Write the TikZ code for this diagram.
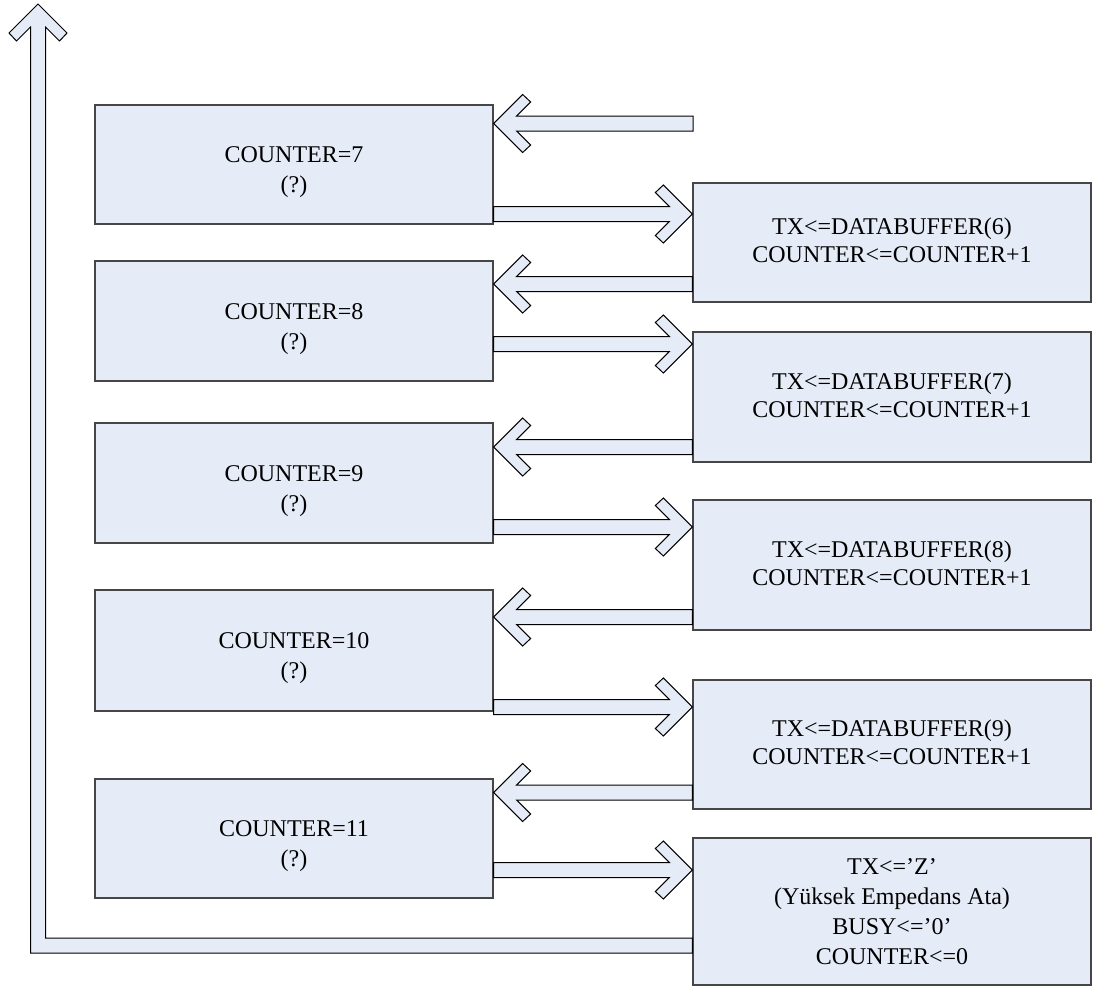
\documentclass[tikz,border=0pt]{standalone}
\usepackage{fontspec}
\setmainfont{Liberation Serif}
\usetikzlibrary{calc}
\definecolor{boxfill}{RGB}{230,236,247}
\definecolor{boxline}{RGB}{70,70,70}
\tikzset{
  statebox/.style={draw=boxline, line width=1.3pt, fill=boxfill, minimum width=398pt,
    inner sep=0pt},
  statetext/.style={align=center, inner sep=0pt, font=\fontsize{24}{30}\selectfont},
  testtext/.style={statetext, yshift=-8pt},
  acttext/.style={statetext, yshift=2pt, font=\fontsize{24}{28}\selectfont},
  blockarr/.style={draw=black, line width=1pt, fill=boxfill, line join=miter},
}
% horizontal block arrow: tail at the x of #1, tip at the x of #2, centre line at y=#3
\newcommand\harrow[3]{%
  \draw[blockarr] let \p1=(#1), \p2=(#2), \n1={ifthenelse(\x1>\x2,1,-1)} in
    (\x2,#3) -- (\x2+\n1*29,#3+29) -- (\x2+\n1*37,#3+21.5) -- (\x2+\n1*23,#3+7.5)
    -- (\x1,#3+7.5) -- (\x1,#3-7.5) -- (\x2+\n1*23,#3-7.5) -- (\x2+\n1*37,#3-21.5)
    -- (\x2+\n1*29,#3-29) -- cycle;}
\begin{document}
\begin{tikzpicture}[x=1pt,y=1pt]
\useasboundingbox (0,0) rectangle (1107,-989);

% counter test states
\node[statebox, minimum height=119pt, label={[testtext]center:COUNTER=7\\(?)}]  (c7)  at (294,-164.5) {};
\node[statebox, minimum height=120pt, label={[testtext]center:COUNTER=8\\(?)}]  (c8)  at (294,-321)   {};
\node[statebox, minimum height=120pt, label={[testtext]center:COUNTER=9\\(?)}]  (c9)  at (294,-483)   {};
\node[statebox, minimum height=121pt, label={[testtext]center:COUNTER=10\\(?)}] (c10) at (294,-650.5) {};
\node[statebox, minimum height=119pt, label={[testtext]center:COUNTER=11\\(?)}] (c11) at (294,-838.5) {};

% transmit states
\node[statebox, minimum height=119pt, label={[acttext]center:TX<=DATABUFFER(6)\\COUNTER<=COUNTER+1}] (d6) at (892,-242.5) {};
\node[statebox, minimum height=130pt, label={[acttext]center:TX<=DATABUFFER(7)\\COUNTER<=COUNTER+1}] (d7) at (892,-397)   {};
\node[statebox, minimum height=130pt, label={[acttext]center:TX<=DATABUFFER(8)\\COUNTER<=COUNTER+1}] (d8) at (892,-565)   {};
\node[statebox, minimum height=129pt, label={[acttext]center:TX<=DATABUFFER(9)\\COUNTER<=COUNTER+1}] (d9) at (892,-744.5) {};
\node[statebox, minimum height=147pt, label={[statetext]center:TX<=’Z’\\(Yüksek Empedans Ata)\\BUSY<=’0’\\COUNTER<=0}] (fin) at (892,-911.5) {};

% incoming transition
\coordinate (entry) at (693,-123.5);
\harrow{entry}{c7.east}{-123.5}

% transitions between the states
\harrow{c7.east}{d6.west}{-214}
\harrow{d6.west}{c8.east}{-284}
\harrow{c8.east}{d7.west}{-344}
\harrow{d7.west}{c9.east}{-447}
\harrow{c9.east}{d8.west}{-527}
\harrow{d8.west}{c10.east}{-617}
\harrow{c10.east}{d9.west}{-707}
\harrow{d9.west}{c11.east}{-792.5}
\harrow{c11.east}{fin.west}{-870}

% return path from the last state, running up the left side
\draw[blockarr] let \p1=(fin.west) in
  (38,-4) -- (67,-33) -- (59.5,-41) -- (45.5,-27) -- (45.5,-938) -- (\x1,-938)
  -- (\x1,-953) -- (30.5,-953) -- (30.5,-27) -- (16.5,-41) -- (9,-33) -- cycle;
\end{tikzpicture}
\end{document}
